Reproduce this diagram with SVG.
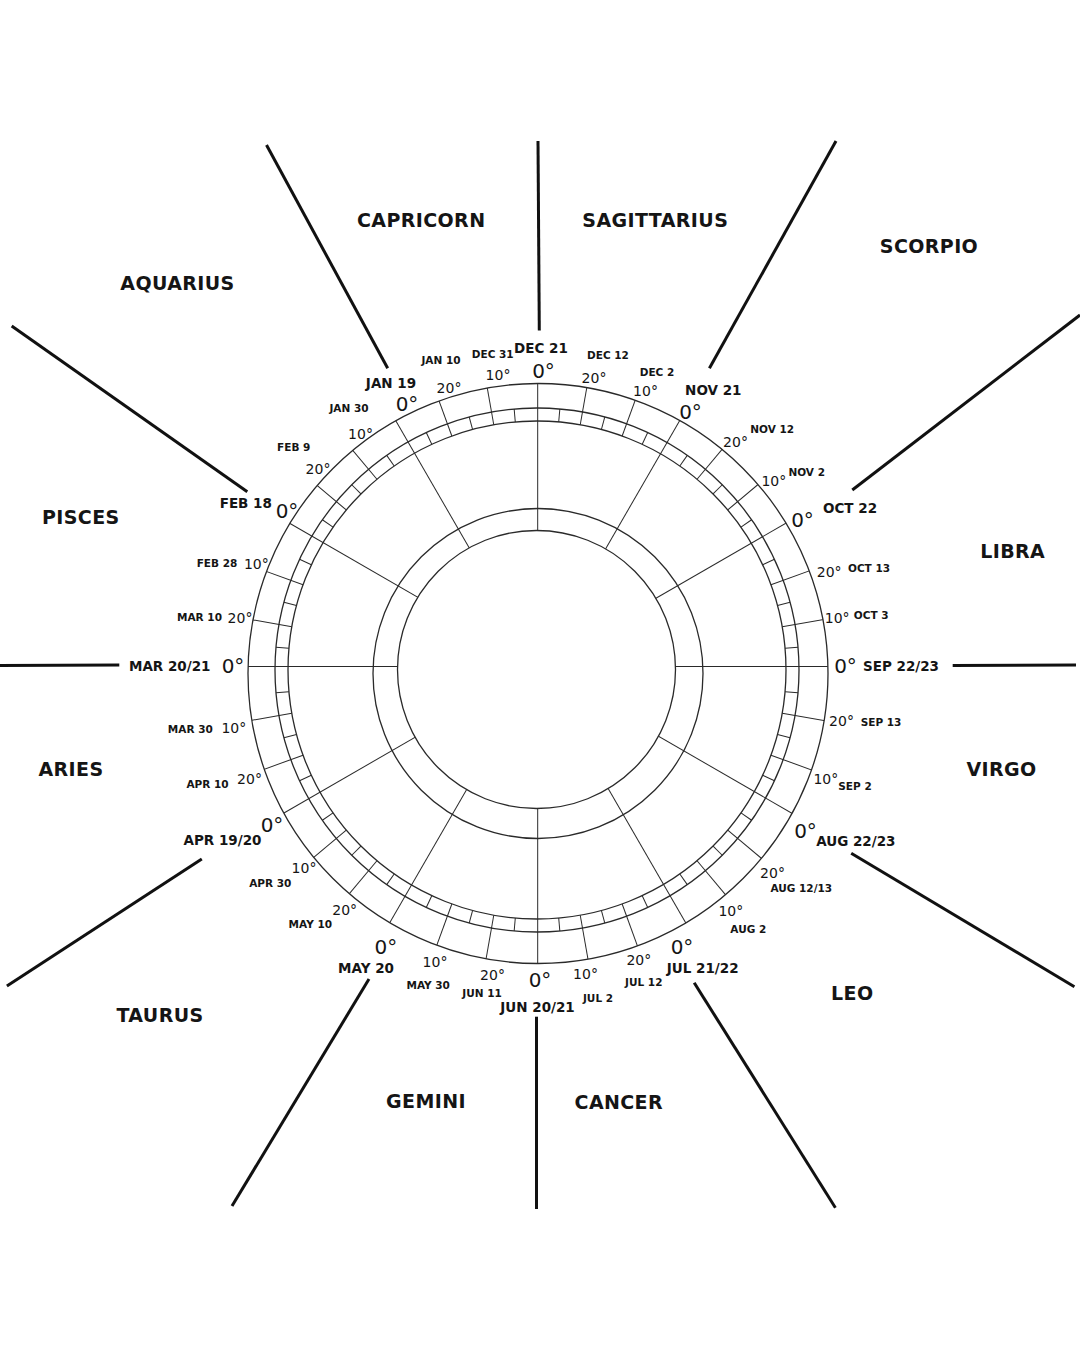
<svg xmlns="http://www.w3.org/2000/svg" xmlns:xlink="http://www.w3.org/1999/xlink" width="1080" height="1350" viewBox="0 0 1080 1350">
<style>
.w{fill:none;stroke:#2a2a2a;stroke-width:1.3}
.tk{stroke:#2a2a2a;stroke-width:1;fill:none}
.dv{stroke:#111;stroke-width:3;stroke-linecap:butt}
text{font-family:"DejaVu Sans","Liberation Sans",sans-serif;fill:#151515;text-anchor:middle}
.g{font-size:19px;font-weight:bold;letter-spacing:0.4px}
.m{font-size:13.5px;font-weight:bold}
.s{font-size:10.5px;font-weight:bold}
.d{font-size:14px}
.z{font-size:20px}
</style>
<defs>
<clipPath id="oc"><circle cx="538" cy="673.5" r="290"/></clipPath>
<line id="b5" x1="249" y1="0" x2="262" y2="0"/>
<line id="l10" x1="249" y1="0" x2="300" y2="0"/>
<line id="sp" x1="0" y1="0" x2="300" y2="0"/>
</defs>
<rect width="1080" height="1350" fill="#fff"/>

<g id="wheel">
  <g class="tk" clip-path="url(#oc)">
    <g id="spokes" transform="translate(537.7 666.5)">
      <use href="#sp" transform="rotate(0)"/><use href="#sp" transform="rotate(-30)"/><use href="#sp" transform="rotate(-60)"/><use href="#sp" transform="rotate(-90)"/>
      <use href="#sp" transform="rotate(-120)"/><use href="#sp" transform="rotate(-150)"/><use href="#sp" transform="rotate(-180)"/><use href="#sp" transform="rotate(-210)"/>
      <use href="#sp" transform="rotate(-240)"/><use href="#sp" transform="rotate(-270)"/><use href="#sp" transform="rotate(-300)"/><use href="#sp" transform="rotate(-330)"/>
    </g>
    <g id="ticks10" transform="translate(537 670)">
      <use href="#l10" transform="rotate(-10)"/><use href="#l10" transform="rotate(-20)"/><use href="#l10" transform="rotate(-40)"/><use href="#l10" transform="rotate(-50)"/>
      <use href="#l10" transform="rotate(-70)"/><use href="#l10" transform="rotate(-80)"/><use href="#l10" transform="rotate(-100)"/><use href="#l10" transform="rotate(-110)"/>
      <use href="#l10" transform="rotate(-130)"/><use href="#l10" transform="rotate(-140)"/><use href="#l10" transform="rotate(-160)"/><use href="#l10" transform="rotate(-170)"/>
      <use href="#l10" transform="rotate(-190)"/><use href="#l10" transform="rotate(-200)"/><use href="#l10" transform="rotate(-220)"/><use href="#l10" transform="rotate(-230)"/>
      <use href="#l10" transform="rotate(-250)"/><use href="#l10" transform="rotate(-260)"/><use href="#l10" transform="rotate(-280)"/><use href="#l10" transform="rotate(-290)"/>
      <use href="#l10" transform="rotate(-310)"/><use href="#l10" transform="rotate(-320)"/><use href="#l10" transform="rotate(-340)"/><use href="#l10" transform="rotate(-350)"/>
    </g>
  </g>
  <g id="ticks5" class="tk" transform="translate(537 670)">
    <use href="#b5" transform="rotate(-5)"/><use href="#b5" transform="rotate(-15)"/><use href="#b5" transform="rotate(-25)"/><use href="#b5" transform="rotate(-35)"/>
    <use href="#b5" transform="rotate(-45)"/><use href="#b5" transform="rotate(-55)"/><use href="#b5" transform="rotate(-65)"/><use href="#b5" transform="rotate(-75)"/>
    <use href="#b5" transform="rotate(-85)"/><use href="#b5" transform="rotate(-95)"/><use href="#b5" transform="rotate(-105)"/><use href="#b5" transform="rotate(-115)"/>
    <use href="#b5" transform="rotate(-125)"/><use href="#b5" transform="rotate(-135)"/><use href="#b5" transform="rotate(-145)"/><use href="#b5" transform="rotate(-155)"/>
    <use href="#b5" transform="rotate(-165)"/><use href="#b5" transform="rotate(-175)"/><use href="#b5" transform="rotate(-185)"/><use href="#b5" transform="rotate(-195)"/>
    <use href="#b5" transform="rotate(-205)"/><use href="#b5" transform="rotate(-215)"/><use href="#b5" transform="rotate(-225)"/><use href="#b5" transform="rotate(-235)"/>
    <use href="#b5" transform="rotate(-245)"/><use href="#b5" transform="rotate(-255)"/><use href="#b5" transform="rotate(-265)"/><use href="#b5" transform="rotate(-275)"/>
    <use href="#b5" transform="rotate(-285)"/><use href="#b5" transform="rotate(-295)"/><use href="#b5" transform="rotate(-305)"/><use href="#b5" transform="rotate(-315)"/>
    <use href="#b5" transform="rotate(-325)"/><use href="#b5" transform="rotate(-335)"/><use href="#b5" transform="rotate(-345)"/><use href="#b5" transform="rotate(-355)"/>
  </g>
  <circle class="w" cx="538" cy="673.5" r="290" stroke-width="1.5"/>
  <circle class="w" cx="537" cy="670" r="262"/>
  <circle class="w" cx="537" cy="670" r="249"/>
  <circle class="w" cx="538" cy="673.5" r="165"/>
  <circle class="w" cx="536.5" cy="669.5" r="139" fill="#fff" style="fill:#fff"/>
</g>

<g id="dividers" class="dv">
  <line x1="538" y1="141" x2="539.3" y2="330.5"/>
  <line x1="266.5" y1="145" x2="387.7" y2="368.3"/>
  <line x1="836" y1="141" x2="709.4" y2="368.3"/>
  <line x1="11.7" y1="326" x2="247.3" y2="491.7"/>
  <line x1="1080" y1="315" x2="852.3" y2="490"/>
  <line x1="0" y1="665.5" x2="119.3" y2="665"/>
  <line x1="952.7" y1="665.5" x2="1076" y2="665"/>
  <line x1="201.8" y1="859" x2="6.9" y2="986"/>
  <line x1="851.2" y1="853.3" x2="1074.4" y2="986.7"/>
  <line x1="369" y1="979" x2="232" y2="1206"/>
  <line x1="536.5" y1="1016.7" x2="536.5" y2="1209"/>
  <line x1="694.2" y1="982.7" x2="835.4" y2="1207.7"/>
</g>

<g id="signs">
  <g id="sign-capricorn"><text class="g" x="421.2" y="227.3">CAPRICORN</text></g>
  <g id="sign-sagittarius"><text class="g" x="655.3" y="227.3">SAGITTARIUS</text></g>
  <g id="sign-scorpio"><text class="g" x="929" y="252.7">SCORPIO</text></g>
  <g id="sign-aquarius"><text class="g" x="177.5" y="290">AQUARIUS</text></g>
  <g id="sign-pisces"><text class="g" x="80.8" y="524">PISCES</text></g>
  <g id="sign-libra"><text class="g" x="1012.7" y="558.3">LIBRA</text></g>
  <g id="sign-aries"><text class="g" x="71" y="776">ARIES</text></g>
  <g id="sign-virgo"><text class="g" x="1001.5" y="776">VIRGO</text></g>
  <g id="sign-taurus"><text class="g" x="160" y="1021.7">TAURUS</text></g>
  <g id="sign-leo"><text class="g" x="852.3" y="1000">LEO</text></g>
  <g id="sign-gemini"><text class="g" x="426" y="1108.3">GEMINI</text></g>
  <g id="sign-cancer"><text class="g" x="618.8" y="1109.3">CANCER</text></g>
</g>

<g id="cusp-dates">
  <text class="m" x="541" y="353">DEC 21</text>
  <text class="m" x="391" y="388">JAN 19</text>
  <text class="m" x="245.8" y="507.5">FEB 18</text>
  <text class="m" x="169.7" y="671">MAR 20/21</text>
  <text class="m" x="222.5" y="845">APR 19/20</text>
  <text class="m" x="366" y="973.3">MAY 20</text>
  <text class="m" x="537.5" y="1011.7">JUN 20/21</text>
  <text class="m" x="702.7" y="972.7">JUL 21/22</text>
  <text class="m" x="855.8" y="846">AUG 22/23</text>
  <text class="m" x="901" y="671">SEP 22/23</text>
  <text class="m" x="850" y="513.3">OCT 22</text>
  <text class="m" x="713.3" y="395">NOV 21</text>
</g>

<g id="zero-degrees">
  <text class="z" x="543.5" y="378">0°</text>
  <text class="z" x="407" y="411">0°</text>
  <text class="z" x="287" y="518">0°</text>
  <text class="z" x="233" y="673.3">0°</text>
  <text class="z" x="272" y="831.7">0°</text>
  <text class="z" x="385.8" y="954">0°</text>
  <text class="z" x="540" y="986.7">0°</text>
  <text class="z" x="682" y="954.3">0°</text>
  <text class="z" x="805.5" y="837.7">0°</text>
  <text class="z" x="845.5" y="673.3">0°</text>
  <text class="z" x="802.5" y="526.7">0°</text>
  <text class="z" x="690.5" y="418.5">0°</text>
</g>

<g id="degree-marks">
  <text class="d" x="498" y="380">10°</text>
  <text class="d" x="449" y="393">20°</text>
  <text class="d" x="360.5" y="439">10°</text>
  <text class="d" x="318" y="474">20°</text>
  <text class="d" x="256.3" y="568.5">10°</text>
  <text class="d" x="240" y="622.5">20°</text>
  <text class="d" x="233.8" y="732.5">10°</text>
  <text class="d" x="249.5" y="784.3">20°</text>
  <text class="d" x="304" y="873">10°</text>
  <text class="d" x="344.7" y="915">20°</text>
  <text class="d" x="435" y="966.7">10°</text>
  <text class="d" x="492.5" y="980">20°</text>
  <text class="d" x="585.5" y="979.3">10°</text>
  <text class="d" x="638.8" y="965.3">20°</text>
  <text class="d" x="730.8" y="916">10°</text>
  <text class="d" x="772.5" y="878">20°</text>
  <text class="d" x="825.8" y="784.3">10°</text>
  <text class="d" x="841.5" y="726">20°</text>
  <text class="d" x="837.2" y="622.7">10°</text>
  <text class="d" x="829.2" y="576.7">20°</text>
  <text class="d" x="773.8" y="486">10°</text>
  <text class="d" x="735.5" y="446.7">20°</text>
  <text class="d" x="645.5" y="396">10°</text>
  <text class="d" x="594" y="383">20°</text>
</g>

<g id="minor-dates">
  <text class="s" x="492.7" y="358.3">DEC 31</text>
  <text class="s" x="441" y="364">JAN 10</text>
  <text class="s" x="349" y="411.7">JAN 30</text>
  <text class="s" x="293.7" y="450.7">FEB 9</text>
  <text class="s" x="217" y="566.7">FEB 28</text>
  <text class="s" x="199.5" y="620.7">MAR 10</text>
  <text class="s" x="190.3" y="732.7">MAR 30</text>
  <text class="s" x="207.5" y="788.3">APR 10</text>
  <text class="s" x="270.3" y="886.7">APR 30</text>
  <text class="s" x="310.3" y="928.3">MAY 10</text>
  <text class="s" x="428.2" y="989.3">MAY 30</text>
  <text class="s" x="482" y="997.3">JUN 11</text>
  <text class="s" x="598" y="1001.7">JUL 2</text>
  <text class="s" x="643.8" y="985.7">JUL 12</text>
  <text class="s" x="748.3" y="933.3">AUG 2</text>
  <text class="s" x="801.3" y="892.3">AUG 12/13</text>
  <text class="s" x="855" y="790">SEP 2</text>
  <text class="s" x="881" y="725.7">SEP 13</text>
  <text class="s" x="871.2" y="619.3">OCT 3</text>
  <text class="s" x="869" y="572.3">OCT 13</text>
  <text class="s" x="806.7" y="475.7">NOV 2</text>
  <text class="s" x="772.2" y="433.3">NOV 12</text>
  <text class="s" x="657" y="375.7">DEC 2</text>
  <text class="s" x="608" y="359.3">DEC 12</text>
</g>
</svg>
